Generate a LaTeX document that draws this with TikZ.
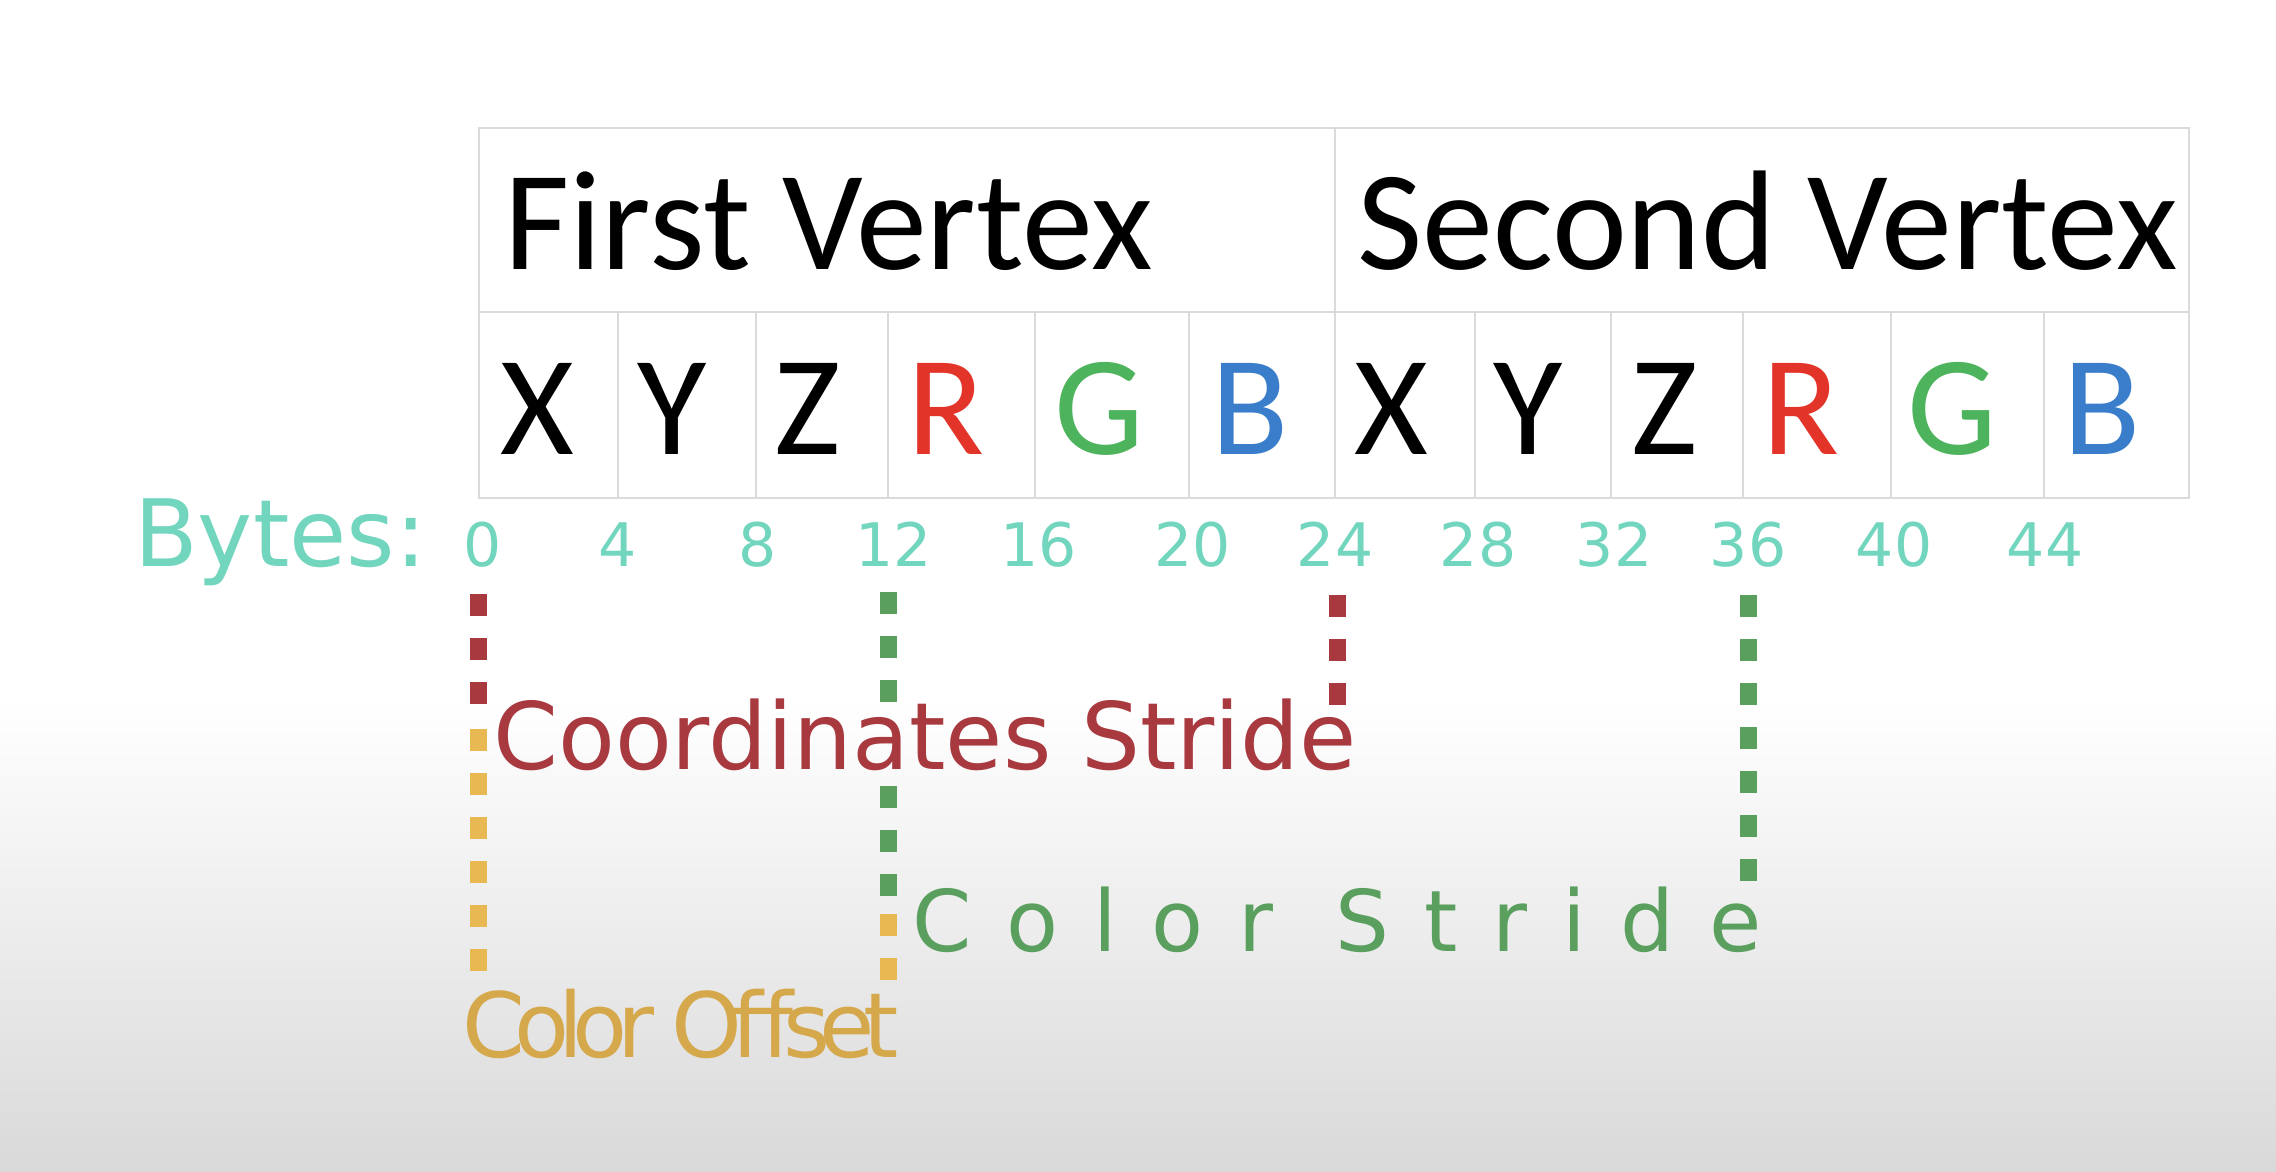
\documentclass[tikz,border=0pt]{standalone}
\usepackage{fontspec}
\setmainfont{Carlito}
\newfontfamily\dejavu{DejaVu Sans}
\newfontfamily\dejavuwide[LetterSpace=41]{DejaVu Sans}
\newfontfamily\dejavutight[LetterSpace=-12]{DejaVu Sans}
\definecolor{gridgray}{HTML}{DADADA}
\definecolor{bgbottom}{HTML}{D9D9D9}
\definecolor{rgbred}{HTML}{E3342A}
\definecolor{rgbgreen}{HTML}{4DB35C}
\definecolor{rgbblue}{HTML}{3A7DCA}
\definecolor{teal}{HTML}{72D6BE}
\definecolor{darkred}{HTML}{A8393F}
\definecolor{dgreen}{HTML}{5A9F5E}
\definecolor{gold}{HTML}{E8B852}
\definecolor{goldtext}{HTML}{D6A84C}
\begin{document}
\begin{tikzpicture}[x=1pt,y=-1pt,
  grid/.style={draw=gridgray,line width=2pt},
  head/.style={anchor=base west,inner sep=0pt,font=\fontsize{142}{142}\selectfont},
  cell/.style={anchor=base,inner sep=0pt,font=\fontsize{142}{142}\selectfont},
  byte/.style={anchor=base,inner sep=0pt,text=teal,font=\dejavu\fontsize{60}{60}\selectfont},
  dashline/.style={line width=17pt,dash pattern=on 22pt off 22pt},
  lbl/.style={anchor=base west,inner sep=0pt,font=\dejavu\fontsize{93}{93}\selectfont}]
\useasboundingbox (0,0) rectangle (2276,1172);
\fill[white] (0,0) rectangle (2276,701);
\shade[top color=white,bottom color=bgbottom] (0,700) rectangle (2276,1172);
% table
\draw[grid] (479,128) rectangle (2189,498);
\draw[grid] (479,312) -- (2189,312);
\draw[grid] (1335,128) -- (1335,498);
\foreach \x in {618,756,888,1035,1189,1475,1611,1743,1891,2044}
  \draw[grid] (\x,312) -- (\x,498);
% headers
\node[head] (first) at (504,269) {First Vertex};
\node[head] (second) at (1357,269) {Second Vertex};
% cells
\node[cell] (x1) at (537,454) {X};
\node[cell] (y1) at (672,454) {Y};
\node[cell] (z1) at (808,454) {Z};
\node[cell,text=rgbred] (r1) at (946,454) {R};
\node[cell,text=rgbgreen] (g1) at (1099,454) {G};
\node[cell,text=rgbblue] (b1) at (1250,454) {B};
\node[cell] (x2) at (1391,454) {X};
\node[cell] (y2) at (1528,454) {Y};
\node[cell] (z2) at (1665,454) {Z};
\node[cell,text=rgbred] (r2) at (1801,454) {R};
\node[cell,text=rgbgreen] (g2) at (1952,454) {G};
\node[cell,text=rgbblue] (b2) at (2102,454) {B};
% bytes
\node[anchor=base west,inner sep=0pt,text=teal,font=\dejavu\fontsize{93}{93}\selectfont] (bytes) at (134,566) {Bytes:};
\node[byte] (n0) at (483,566) {0};
\node[byte] (n4) at (618,566) {4};
\node[byte] (n8) at (758,566) {8};
\node[byte] (n12) at (894,566) {12};
\node[byte] (n16) at (1039,566) {16};
\node[byte] (n20) at (1193,566) {20};
\node[byte] (n24) at (1335,566) {24};
\node[byte] (n28) at (1478,566) {28};
\node[byte] (n32) at (1614,566) {32};
\node[byte] (n36) at (1748,566) {36};
\node[byte] (n40) at (1894,566) {40};
\node[byte] (n44) at (2045,566) {44};
% coordinates of dashed lines
\coordinate (a0) at (478,594);
\coordinate (a1) at (478,708);
\coordinate (a2) at (478,729);
\coordinate (a3) at (478,974);
\coordinate (c0) at (888,592);
\coordinate (c1) at (888,704);
\coordinate (c2) at (888,786);
\coordinate (c3) at (888,899);
\coordinate (c4) at (888,914);
\coordinate (c5) at (888,982);
\coordinate (d0) at (1337,595);
\coordinate (d1) at (1337,708);
\coordinate (e0) at (1748,595);
\coordinate (e1) at (1748,886);
\draw[dashline,darkred] (a0) -- (a1);
\draw[dashline,gold] (a2) -- (a3);
\draw[dashline,dgreen] (c0) -- (c1);
\draw[dashline,dgreen] (c2) -- (c3);
\draw[dashline,gold] (c4) -- (c5);
\draw[dashline,darkred] (d0) -- (d1);
\draw[dashline,dgreen] (e0) -- (e1);
% labels
\node[lbl,text=darkred] (cstride) at (493,769) {Coordinates Stride};
\node[anchor=base west,inner sep=0pt,text=dgreen,font=\dejavuwide\fontsize{85}{85}\selectfont] (colstride) at (912,951) {Color Stride};
\node[anchor=base west,inner sep=0pt,text=goldtext,font=\dejavutight\fontsize{90}{90}\selectfont] (coloff) at (462,1057) {Color Offset};
\end{tikzpicture}
\end{document}
